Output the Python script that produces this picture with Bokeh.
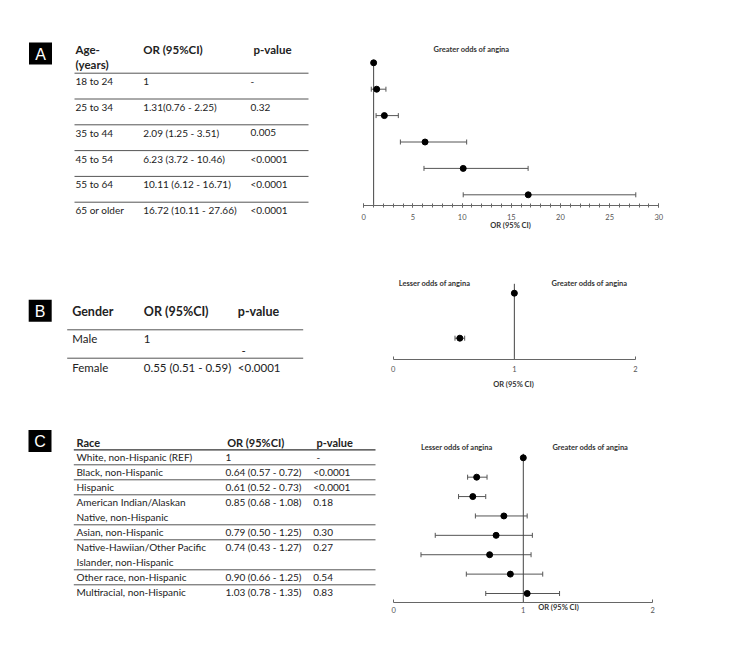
from bokeh.plotting import figure
from bokeh.layouts import column, row
from bokeh.models import Range1d, ColumnDataSource, Whisker, TeeHead, Label, FixedTicker
from bokeh.embed import file_html
from bokeh.resources import INLINE
from bokeh.core.properties import value

# ---------------- data ----------------
age_groups = ["18 to 24", "25 to 34", "35 to 44", "45 to 54", "55 to 64", "65 or older"]
age_or = [1.0, 1.31, 2.09, 6.23, 10.11, 16.72]
age_lo = [1.0, 0.76, 1.25, 3.72, 6.12, 10.11]
age_hi = [1.0, 2.25, 3.51, 10.46, 16.71, 27.66]
age_or_text = ["1", "1.31(0.76 - 2.25)", "2.09 (1.25 - 3.51)", "6.23 (3.72 - 10.46)",
               "10.11 (6.12 - 16.71)", "16.72 (10.11 - 27.66)"]
age_p = ["-", "0.32", "0.005", "<0.0001", "<0.0001", "<0.0001"]

genders = ["Male", "Female"]
gender_or = [1.0, 0.55]
gender_lo = [1.0, 0.51]
gender_hi = [1.0, 0.59]
gender_or_text = ["1", "0.55 (0.51 - 0.59)"]
gender_p = ["-", "<0.0001"]

races = ["White, non-Hispanic (REF)", "Black, non-Hispanic", "Hispanic",
         "American Indian/Alaskan\nNative, non-Hispanic", "Asian, non-Hispanic",
         "Native-Hawiian/Other Pacific\nIslander, non-Hispanic", "Other race, non-Hispanic",
         "Multiracial, non-Hispanic"]
race_or = [1.0, 0.64, 0.61, 0.85, 0.79, 0.74, 0.90, 1.03]
race_or_text = ["1", "0.64 (0.57 - 0.72)", "0.61 (0.52 - 0.73)", "0.85 (0.68 - 1.08)",
                "0.79 (0.50 - 1.25)", "0.74 (0.43 - 1.27)", "0.90 (0.66 - 1.25)", "1.03 (0.78 - 1.35)"]
race_p = ["-", "<0.0001", "<0.0001", "0.18", "0.30", "0.27", "0.54", "0.83"]
# confidence bars as drawn in the forest plot
race_lo_drawn = [1.0, 0.57, 0.50, 0.63, 0.32, 0.21, 0.56, 0.71]
race_hi_drawn = [1.0, 0.72, 0.71, 1.03, 1.07, 1.06, 1.15, 1.28]

ref_or = 1.0

FONT = "Lato"
TXT = "#222222"
LINE = "#555555"


def lin(p0, v0, p1, v1):
    """return function mapping page pixel -> data value"""
    return lambda px: v0 + (px - p0) * (v1 - v0) / (p1 - p0)


def table_fig(x0, y0, w, h):
    p = figure(width=w, height=h, x_range=Range1d(x0, x0 + w), y_range=Range1d(y0 + h, y0),
               x_axis_location=None, y_axis_location=None, toolbar_location=None,
               output_backend="svg", min_border=0, outline_line_color=None)
    p.grid.visible = False
    return p


def put_text(p, xs, ys, texts, size, bold=False, color=TXT, align="left"):
    p.text(x=xs, y=ys, text=texts, text_font=value(FONT), text_font_size=f"{size}px",
           text_font_style="bold" if bold else "normal", text_color=color,
           text_align=align, text_baseline="middle")


def badge(p, cx, cy, letter):
    p.rect(x=[cx], y=[cy], width=23, height=22, fill_color="black", line_color=None)
    p.text(x=[cx], y=[cy + 0.5], text=[letter], text_font=value("Liberation Sans"),
           text_font_size="16px", text_color="white", text_align="center", text_baseline="middle")


def forest_fig(x0, y0, w, h, fx, fy, axis_page_y, ticks, minor, tick_in, tick_out, standoff):
    p = figure(width=w, height=h, x_range=Range1d(fx(x0), fx(x0 + w)),
               y_range=Range1d(fy(y0 + h), fy(y0)),
               y_axis_location=None, toolbar_location=None, output_backend="svg",
               min_border=0, outline_line_color=None)
    p.grid.visible = False
    ax = p.xaxis[0]
    ax.fixed_location = fy(axis_page_y)
    ax.ticker = FixedTicker(ticks=ticks, minor_ticks=minor)
    ax.bounds = (ticks[0], ticks[-1])
    ax.axis_line_color = "#666666"
    ax.major_tick_line_color = "#666666"
    ax.minor_tick_line_color = "#666666"
    ax.major_tick_in = tick_in
    ax.major_tick_out = tick_out
    ax.minor_tick_in = tick_in
    ax.minor_tick_out = tick_out
    ax.major_label_standoff = standoff
    ax.major_label_text_font = FONT
    ax.major_label_text_font_size = "7.5px"
    ax.major_label_text_color = "#555555"
    return p


def forest_marks(p, ors, lo, hi, ref_top, ref_bottom):
    idx = list(range(len(ors)))
    p.segment(x0=ref_or, x1=ref_or, y0=ref_top, y1=ref_bottom, line_color="#444444", line_width=1)
    src = ColumnDataSource(dict(y=idx, lo=lo, hi=hi))
    p.add_layout(Whisker(base="y", lower="lo", upper="hi", dimension="width", source=src,
                         line_color=LINE, line_width=1,
                         lower_head=TeeHead(size=5, line_color=LINE),
                         upper_head=TeeHead(size=5, line_color=LINE)))
    p.scatter(x=ors, y=idx, size=6, fill_color="black", line_color="black")


def note(p, x, y, text, bold=True):
    p.add_layout(Label(x=x, y=y, text=text, text_font=FONT, text_font_size="7.5px",
                       text_font_style="bold" if bold else "normal", text_color="#333333",
                       text_align="center", text_baseline="middle"))


# ---------------- panel A ----------------
tA = table_fig(0, 0, 355, 238)
badge(tA, 40, 53, "A")
put_text(tA, [75, 75, 142.7, 253], [49, 63.5, 49, 49], ["Age-", "(years)", "OR (95%CI)", "p-value"], 11.5, bold=True)
nA = len(age_groups)
lineA = [72.7 + 25.8 * i for i in range(nA)]
tA.segment(x0=74, x1=308, y0=lineA, y1=lineA, line_color=LINE, line_width=1)
rowA = [y + 8 for y in lineA]
put_text(tA, [75] * nA, rowA, age_groups, 10)
put_text(tA, [142.7] * nA, rowA, age_or_text, 10)
put_text(tA, [250] * nA, rowA, age_p, 10)

fxA = lin(363.3, 0.0, 658.3, 30.0)
fyA = lin(62.3, 0.0, 194.3, 5.0)
fA = forest_fig(355, 0, 387, 238, fxA, fyA, 205,
                [0, 5, 10, 15, 20, 25, 30], list(range(31)), 2, 2, 6)
forest_marks(fA, age_or, age_lo, age_hi, fyA(59.5), fyA(205))
note(fA, fxA(471), fyA(49), "Greater odds of angina")
note(fA, fxA(510), fyA(225), "OR (95% CI)")

# ---------------- panel B ----------------
tB = table_fig(0, 238, 355, 157)
badge(tB, 39.7, 310.2, "B")
put_text(tB, [71.7, 143.3, 237.3], [310.7] * 3, ["Gender", "OR (95%CI)", "p-value"], 12.5, bold=True)
tB.segment(x0=66.7, x1=302.7, y0=[329.3, 357.7], y1=[329.3, 357.7], line_color=LINE, line_width=1)
rowB = [338.3, 366.7]
put_text(tB, [71.7] * 2, rowB, genders, 11.5)
put_text(tB, [143.3] * 2, rowB, gender_or_text, 11.5)
put_text(tB, [241, 237.3], [rowB[0] + 11.7, rowB[1]], gender_p, 11.5)

fxB = lin(392.7, 0.0, 635.0, 2.0)
fyB = lin(292.7, 0.0, 337.7, 1.0)
fB = forest_fig(355, 238, 387, 157, fxB, fyB, 359.3, [0, 1, 2], [], 3, 0, 6)
forest_marks(fB, gender_or, gender_lo, gender_hi, fyB(283.3), fyB(359.3))
note(fB, fxB(434), fyB(283.3), "Lesser odds of angina")
note(fB, fxB(589), fyB(283.3), "Greater odds of angina")
note(fB, fxB(513), fyB(384), "OR (95% CI)")

# ---------------- panel C ----------------
tC = table_fig(0, 395, 380, 255)
badge(tC, 39.5, 440.5, "C")
put_text(tC, [76, 226.7, 316], [441.7] * 3, ["Race", "OR (95%CI)", "p-value"], 11, bold=True)
tC.segment(x0=73.3, x1=375, y0=[449.3], y1=[449.3], line_color="#333333", line_width=1.3)
y = 449.3
cx, cy, ct = [], [], []
ox, oy, ot, px, py, pt = [], [], [], [], [], []
sep = []
for i, name in enumerate(races):
    parts = name.split("\n")
    first = y + 7.5
    for j, part in enumerate(parts):
        cx.append(76); cy.append(first + 15 * j); ct.append(part)
    ox.append(225); oy.append(first); ot.append(race_or_text[i])
    px.append(316 if race_p[i] == "-" else 312.7); py.append(first); pt.append(race_p[i])
    y += 15 * len(parts)
    if i < len(races) - 1:
        sep.append(y)
tC.segment(x0=73.3, x1=375, y0=sep, y1=sep, line_color=LINE, line_width=1)
put_text(tC, cx, cy, ct, 10)
put_text(tC, ox, oy, ot, 10)
put_text(tC, px, py, pt, 10)

fxC = lin(393.3, 0.0, 652.3, 2.0)
fyC = lin(457.3, 0.0, 593.0, 7.0)
fC = forest_fig(380, 395, 362, 255, fxC, fyC, 601.7, [0, 1, 2], [], 3, 0, 5)
forest_marks(fC, race_or, race_lo_drawn, race_hi_drawn, fyC(453.3), fyC(601.7))
note(fC, fxC(456.3), fyC(446.7), "Lesser odds of angina")
note(fC, fxC(589.8), fyC(446.7), "Greater odds of angina")
note(fC, fxC(558), fyC(606.7), "OR (95% CI)")

layout = column(row(tA, fA), row(tB, fB), row(tC, fC))
open("out.html", "w").write(file_html(layout, INLINE))
